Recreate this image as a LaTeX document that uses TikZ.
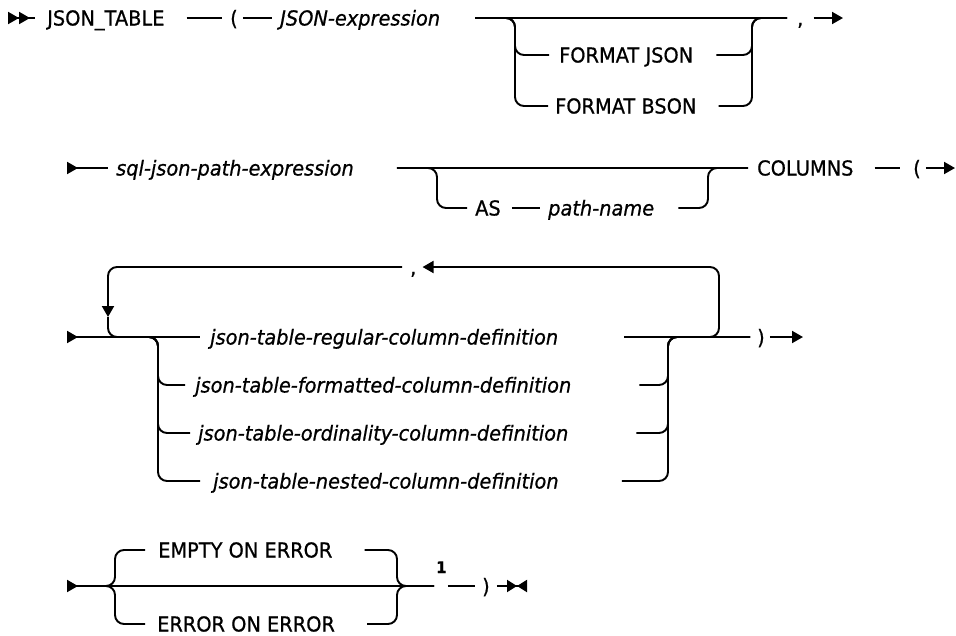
\documentclass[tikz,border=0pt]{standalone}
\usepackage{fontspec}
\setmainfont{DejaVu Sans}[FakeStretch=0.94, FakeBold=0.7]
\usetikzlibrary{arrows.meta}

\begin{document}
\begin{tikzpicture}[
  x=1pt,
  y=-1pt,
  rail/.style={draw=black, line width=1.9pt, rounded corners=9pt},
  railfirst/.style={{Triangle[length=11pt,width=12pt,reversed]Triangle[length=11pt,width=12pt,reversed]}-},
  railbegin/.style={{Triangle[length=11pt,width=12pt,reversed]}-},
  railto/.style={-{Triangle[length=11pt,width=12pt]}},
  railstop/.style={-{Triangle[length=10pt,width=12pt]Triangle[length=10pt,width=12pt,reversed]}},
  keybox/.style={
    anchor=west,
    inner xsep=0pt,
    inner ysep=0pt,
    text height=15pt,
    text depth=0pt,
    font=\fontsize{20.6}{24}\selectfont
  },
  varbox/.style={keybox, font=\fontsize{20.6}{24}\selectfont\itshape},
  notebox/.style={keybox, font=\fontsize{16}{18}\selectfont\bfseries}
]
\useasboundingbox (0,0) rectangle (956,635);

% Coordinates are in pixels of the original drawing, y grows downward.
% Each row: JSON_TABLE ( ... ,  /  path COLUMNS (  /  column list )  /  ON ERROR ).

% row 1
\coordinate (s1) at (8,18);
\node[keybox] (jsontable) at (47,18)   {JSON\_TABLE};
\node[keybox] (lpar1)     at (230,18)  {(};
\node[varbox] (jsonexpr)  at (280,18)  {JSON-expression};
\node[keybox] (comma1)    at (797,18)  {,};
\coordinate (e1) at (843,18);
\coordinate (fl) at (515,18);
\coordinate (fr) at (752,18);
\node[keybox] (fmtjson)   at (559,55)  {FORMAT JSON};
\node[keybox] (fmtbson)   at (555,106) {FORMAT BSON};

\draw[rail, railfirst, shorten >=12pt] (s1) -- (jsontable);
\draw[rail, shorten <=22pt, shorten >=8pt] (jsontable) -- (lpar1);
\draw[rail, shorten <=5pt, shorten >=8pt] (lpar1) -- (jsonexpr);
\draw[rail, shorten <=35pt, shorten >=10pt] (jsonexpr) -- (comma1);
\draw[rail, shorten <=35pt, shorten >=10pt] (jsonexpr) -- (fl) |- (fmtjson);
\draw[rail, shorten <=35pt, shorten >=7pt] (jsonexpr) -- (fl) |- (fmtbson);
\draw[rail, shorten <=23pt, shorten >=10pt] (fmtjson) -| (fr) -- (comma1);
\draw[rail, shorten <=22pt, shorten >=10pt] (fmtbson) -| (fr) -- (comma1);
\draw[rail, railto, shorten <=10pt] (comma1) -- (e1);

% row 2
\coordinate (s2) at (67,168);
\node[varbox] (sqlpath)  at (116,168) {sql-json-path-expression};
\coordinate (al) at (437,168);
\coordinate (ar) at (708,168);
\node[keybox] (as)       at (475,208) {AS};
\node[varbox] (pathname) at (548,208) {path-name};
\node[keybox] (columns)  at (757,168) {COLUMNS};
\node[keybox] (lpar2)    at (913,168) {(};
\coordinate (e2) at (955,168);

\draw[rail, railbegin, shorten >=8pt] (s2) -- (sqlpath);
\draw[rail, shorten <=43pt, shorten >=9pt] (sqlpath) -- (columns);
\draw[rail, shorten <=43pt, shorten >=8pt] (sqlpath) -- (al) |- (as);
\draw[rail, shorten <=11pt, shorten >=8pt] (as) -- (pathname);
\draw[rail, shorten <=24pt, shorten >=9pt] (pathname) -| (ar) -- (columns);
\draw[rail, shorten <=21pt, shorten >=13pt] (columns) -- (lpar2);
\draw[rail, railto, shorten <=5pt] (lpar2) -- (e2);

% row 3, with the repeat loop over the top
\coordinate (s3) at (67,337);
\coordinate (bl) at (158,337);
\coordinate (br) at (668,337);
\coordinate (lt) at (719,267);
\coordinate (ld) at (108,317);
\node[keybox] (comma2)     at (410,267) {,};
\node[varbox] (regular)    at (210,337) {json-table-regular-column-definition};
\node[varbox] (formatted)  at (195,385) {json-table-formatted-column-definition};
\node[varbox] (ordinality) at (198,433) {json-table-ordinality-column-definition};
\node[varbox] (nested)     at (213,481) {json-table-nested-column-definition};
\node[keybox] (rpar3)      at (757,337) {)};
\coordinate (e3) at (803,337);

\draw[rail, railbegin, shorten >=10pt] (s3) -- (regular);
\draw[rail, shorten <=66pt, shorten >=7pt] (regular) -- (rpar3);
\draw[rail, shorten >=10pt] (s3) -- (bl) |- (formatted);
\draw[rail, shorten >=8pt] (s3) -- (bl) |- (ordinality);
\draw[rail, shorten >=13pt] (s3) -- (bl) |- (nested);
\draw[rail, shorten <=68pt, shorten >=7pt] (formatted) -| (br) -- (rpar3);
\draw[rail, shorten <=68pt, shorten >=7pt] (ordinality) -| (br) -- (rpar3);
\draw[rail, shorten <=63pt, shorten >=7pt] (nested) -| (br) -- (rpar3);
\draw[rail, railto, shorten >=6pt] (br) -| (lt) -- (comma2);
\draw[rail, railto, shorten <=8pt] (comma2) -| (ld);
\draw[rail] (ld) |- (bl);
\draw[rail, railto, shorten <=5pt] (rpar3) -- (e3);

% row 4
\coordinate (s4) at (67,586);
\coordinate (bl4) at (115,586);
\coordinate (br4) at (397,586);
\node[keybox]  (emptyerr) at (158,550) {EMPTY ON ERROR};
\node[keybox]  (errorerr) at (157,624) {ERROR ON ERROR};
\node[notebox] (note1)    at (436,586) {\raisebox{20.5pt}{1}};
\node[keybox]  (rpar4)    at (482,586) {)};
\coordinate (e4) at (527,586);

\draw[rail, railbegin, shorten >=2pt] (s4) -- (note1);
\draw[rail, shorten >=13pt] (s4) -- (bl4) |- (emptyerr);
\draw[rail, shorten >=12pt] (s4) -- (bl4) |- (errorerr);
\draw[rail, shorten <=32pt, shorten >=2pt] (emptyerr) -| (br4) -- (note1);
\draw[rail, shorten <=32pt, shorten >=2pt] (errorerr) -| (br4) -- (note1);
\draw[rail, shorten <=1pt, shorten >=7pt] (note1) -- (rpar4);
\draw[rail, railstop, shorten <=7pt] (rpar4) -- (e4);

\end{tikzpicture}
\end{document}
